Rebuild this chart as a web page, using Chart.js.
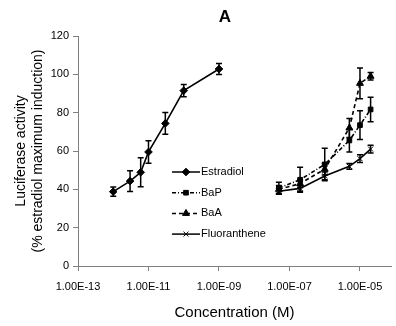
<!DOCTYPE html>
<html><head><meta charset="utf-8">
<script src="https://cdn.jsdelivr.net/npm/chart.js@4/dist/chart.umd.min.js"></script>
<style>html,body{margin:0;padding:0;background:#fff}#wrap{width:396px;height:326px}</style>
</head><body><div id="wrap"><canvas id="c" width="396" height="326"></canvas></div>
<script>
// ---- data ----
const estradiolConc = [1e-12, 3e-12, 6e-12, 1e-11, 3e-11, 1e-10, 1e-9];
const estradiolVal  = [38.8, 44.3, 48.9, 59.5, 74.4, 91.5, 102.8];
const estradiolErr  = [2.4, 5.4, 7.6, 5.9, 5.7, 3.2, 2.9];
const pahConc  = [5e-8, 2e-7, 1e-6, 5e-6, 1e-5, 2e-5];
const bapVal   = [40.7, 45, 53, 65.5, 73.5, 81.7];
const bapErr   = [3, 6.5, 8.5, 6, 7.5, 6.4];
const baaVal   = [40, 43, 50.5, 72, 95.3, 99];
const baaErr   = [2, 2, 3, 5, 8, 2];
const fluorVal = [39, 40.5, 47, 52, 56, 61];
const fluorErr = [1.5, 1.5, 2, 1.5, 2, 2];
const xTickValues = [1e-13, 1e-11, 1e-9, 1e-7, 1e-5];
const xTickLabels = ['1.00E-13', '1.00E-11', '1.00E-09', '1.00E-07', '1.00E-05'];
const yTickValues = [0, 20, 40, 60, 80, 100, 120];
const seriesNames = ['Estradiol', 'BaP', 'BaA', 'Fluoranthene'];
const chartTitle = 'A';
const xTitle = 'Concentration (M)';
const yTitle = ['Luciferase activity', '(% estradiol maximum induction)'];

const FONT = "'Liberation Sans', Arial, sans-serif";
Chart.defaults.font.family = FONT;
Chart.defaults.color = '#000';

const pts = (xs, ys) => xs.map((x, i) => ({x: x, y: ys[i]}));

function mkSet(name, xs, ys, errs, style, dash, radius) {
  return {
    label: name, data: pts(xs, ys), errors: errs,
    borderColor: '#000', backgroundColor: '#000', borderWidth: 1.6,
    borderDash: dash, pointStyle: style, pointRadius: radius,
    pointBorderWidth: 1, pointBackgroundColor: '#000', pointBorderColor: '#000',
    tension: 0, fill: false
  };
}

const errorBars = {
  id: 'errorBars',
  afterDatasetsDraw(chart) {
    const ctx = chart.ctx, xs = chart.scales.x, ys = chart.scales.y;
    chart.data.datasets.forEach(ds => {
      if (!ds.errors) return;
      ctx.save();
      ctx.strokeStyle = '#000'; ctx.lineWidth = 1.5; ctx.setLineDash([]);
      ds.data.forEach((p, j) => {
        const x = xs.getPixelForValue(p.x);
        const y1 = ys.getPixelForValue(p.y + ds.errors[j]);
        const y2 = ys.getPixelForValue(p.y - ds.errors[j]);
        ctx.beginPath();
        ctx.moveTo(x, y1); ctx.lineTo(x, y2);
        ctx.moveTo(x - 3, y1); ctx.lineTo(x + 3, y1);
        ctx.moveTo(x - 3, y2); ctx.lineTo(x + 3, y2);
        ctx.stroke();
      });
      ctx.restore();
    });
  }
};

const customLegend = {
  id: 'customLegend',
  afterDraw(chart) {
    const ctx = chart.ctx;
    const x0 = 172, x1 = 200, y0 = 172, step = 20.7;
    chart.data.datasets.forEach((ds, i) => {
      const y = y0 + i * step;
      ctx.save();
      ctx.strokeStyle = '#000'; ctx.lineWidth = 1.5;
      ctx.setLineDash(ds.borderDash || []);
      ctx.beginPath(); ctx.moveTo(x0, y); ctx.lineTo(x1, y); ctx.stroke();
      ctx.setLineDash([]);
      ctx.fillStyle = '#000'; ctx.strokeStyle = '#000'; ctx.lineWidth = 1;
      Chart.helpers.drawPoint(ctx, {pointStyle: ds.pointStyle, radius: ds.pointRadius, rotation: 0, borderWidth: 1}, (x0 + x1) / 2, y);
      ctx.font = '11px ' + FONT;
      ctx.textBaseline = 'middle'; ctx.textAlign = 'left';
      ctx.fillText(ds.label, x1 + 1, y);
      ctx.restore();
    });
    ctx.save();
    ctx.font = 'bold 17px ' + FONT;
    ctx.textAlign = 'center'; ctx.textBaseline = 'middle'; ctx.fillStyle = '#000';
    ctx.fillText(chartTitle, 225, 17);
    ctx.restore();
  }
};

new Chart(document.getElementById('c'), {
  type: 'line',
  data: {
    datasets: [
      mkSet(seriesNames[0], estradiolConc, estradiolVal, estradiolErr, 'rectRot', [], 3.8),
      mkSet(seriesNames[1], pahConc, bapVal, bapErr, 'rect', [4, 2, 1, 2], 3.3),
      mkSet(seriesNames[2], pahConc, baaVal, baaErr, 'triangle', [4, 3], 4),
      mkSet(seriesNames[3], pahConc, fluorVal, fluorErr, 'crossRot', [], 3.5)
    ]
  },
  options: {
    responsive: false, animation: false, devicePixelRatio: 1,
    layout: {padding: {top: 36, left: 0, right: 0, bottom: 0}},
    plugins: {legend: {display: false}, tooltip: {enabled: false}, title: {display: false}},
    scales: {
      x: {
        type: 'logarithmic', min: 1e-13, max: Math.pow(10, -4.12),
        afterBuildTicks: s => { s.ticks = xTickValues.map(v => ({value: v})); },
        ticks: {callback: (v, i) => xTickLabels[i], font: {size: 11}, color: '#000', padding: 9, maxRotation: 0, autoSkip: false},
        grid: {drawOnChartArea: false, color: '#808080', tickLength: 5},
        border: {color: '#808080', width: 1},
        title: {display: true, text: xTitle, font: {size: 15}, color: '#000', padding: {top: 0, bottom: 4}},
        afterFit: s => { s.height = 60; }
      },
      y: {
        min: 0, max: 120,
        afterBuildTicks: s => { s.ticks = yTickValues.map(v => ({value: v})); },
        ticks: {font: {size: 11}, color: '#000', padding: 4},
        grid: {drawOnChartArea: false, color: '#808080', tickLength: 5},
        border: {color: '#808080', width: 1},
        title: {display: true, text: yTitle, font: {size: 14, lineHeight: 1.2}, color: '#000', padding: {top: 13, bottom: 0}},
        afterFit: s => { s.width = 78; }
      }
    }
  },
  plugins: [errorBars, customLegend]
});
</script>
</body></html>
